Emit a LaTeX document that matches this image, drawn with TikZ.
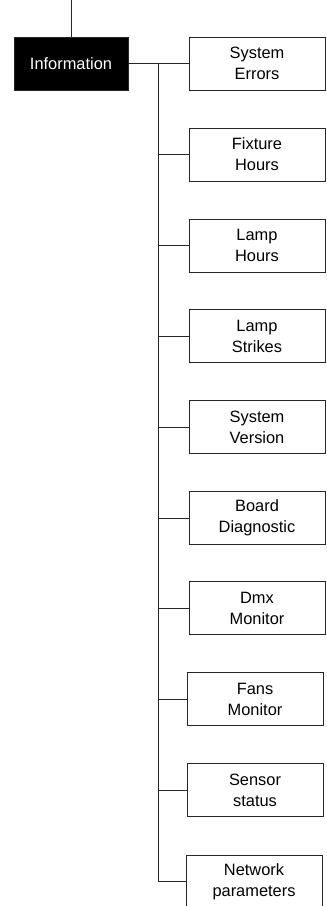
\documentclass[tikz,border=0pt]{standalone}
\usepackage{fontspec}
\setmainfont{Liberation Sans}
\begin{document}
\begin{tikzpicture}[x=0.3mm,y=-0.3mm,line width=0.6pt,
    menu/.style={draw=black!85,minimum width=40.8mm,minimum height=15.9mm,align=center,inner sep=0pt,font=\fontsize{14}{18}\selectfont},
    head/.style={menu,fill=black,text=white,minimum width=34.2mm},
    wire/.style={draw=black!85}]
                \useasboundingbox (0,0) rectangle (326,906);
                \node[head] (info) at (71,63.5) {Information};
                \coordinate (top) at (71,0);
                \node[menu] (errors) at (257,63.5) {System\\Errors};
                \node[menu] (fixture) at (257,154.5) {Fixture\\Hours};
                \node[menu] (lamphours) at (257,245.5) {Lamp\\Hours};
                \node[menu] (strikes) at (257,336) {Lamp\\Strikes};
                \node[menu] (version) at (257,427) {System\\Version};
                \node[menu] (board) at (257,518) {Board\\Diagnostic};
                \node[menu] (dmx) at (257,608) {Dmx\\Monitor};
                \node[menu] (fans) at (255,699) {Fans\\Monitor};
                \node[menu] (sensor) at (255,790) {Sensor\\status};
                \node[menu] (network) at (254,881.5) {Network\\parameters};
                \coordinate (trunk) at (158,63.5);
                \draw[wire] (top) -- (info.north) (info.east) -- (errors.west);
                \draw[wire] (trunk) -- (trunk |- network.west) -- (network.west);
                \foreach \n in {fixture,lamphours,strikes,version,board,dmx,fans,sensor}
                    \draw[wire] (trunk |- \n.west) -- (\n.west);
            \end{tikzpicture}
\end{document}
